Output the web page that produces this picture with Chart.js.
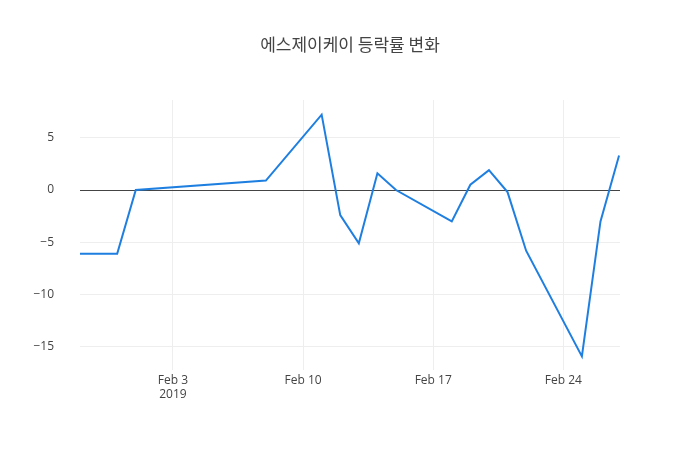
<!DOCTYPE html>
<html><head><meta charset="utf-8">
<script src="https://cdn.jsdelivr.net/npm/chart.js@4"></script>
<style>body{margin:0;background:#fff}#w{width:700px;height:450px}</style>
</head><body><div id="w"><canvas id="c"></canvas></div>
<script>
const dates=["2019-01-29","2019-01-31","2019-02-01","2019-02-08","2019-02-11","2019-02-12","2019-02-13","2019-02-14","2019-02-15","2019-02-18","2019-02-19","2019-02-20","2019-02-21","2019-02-22","2019-02-25","2019-02-26","2019-02-27"];
const values=[-6.1,-6.1,0,0.9,7.2,-2.4,-5.1,1.6,0,-3.0,0.5,1.9,-0.2,-5.8,-15.9,-3.0,3.3];
const xTicks=["2019-02-03","2019-02-10","2019-02-17","2019-02-24"];
const xTickLabels=[["Feb 3","2019"],"Feb 10","Feb 17","Feb 24"];
const yTicks=[-15,-10,-5,0,5];
const title="에스제이케이 등락률 변화";
const day=s=>Date.UTC(+s.slice(0,4),+s.slice(5,7)-1,+s.slice(8,10))/86400000;
const tickDays=xTicks.map(day);
const titlePlugin={id:'t',afterDraw(c){const g=c.ctx;g.save();g.font='17px "Noto Sans CJK KR"';g.fillStyle='#444';g.textAlign='center';g.textBaseline='middle';g.fillText(title,350,45);g.restore();}};
new Chart(document.getElementById('c'),{type:'line',
data:{datasets:[{data:dates.map((d,i)=>({x:day(d),y:values[i]})),borderColor:'#1f7fe0',borderWidth:2,pointRadius:0,tension:0,fill:false}]},
options:{responsive:true,maintainAspectRatio:false,animation:false,
layout:{padding:{left:0,right:80,top:100,bottom:0}},
plugins:{legend:{display:false},tooltip:{enabled:false}},
scales:{
x:{type:'linear',min:day("2019-01-29"),max:day("2019-02-27")+0.05,
afterBuildTicks:a=>{a.ticks=tickDays.map(v=>({value:v}));},
afterFit:a=>{a.height=80;},
border:{display:false},grid:{color:'#eee',drawTicks:false},
ticks:{padding:3,color:'#444',font:{family:'Open Sans',size:12},maxRotation:0,callback:(v)=>{const i=tickDays.indexOf(v);return i<0?'':xTickLabels[i];}}},
y:{min:-17.2,max:8.6,
afterBuildTicks:a=>{a.ticks=yTicks.map(v=>({value:v}));},
afterFit:a=>{a.width=80;},
border:{display:false},grid:{drawTicks:false,color:c=>c.tick&&c.tick.value===0?'#444':'#eee'},
ticks:{padding:26,color:'#444',font:{family:'Open Sans',size:12},callback:v=>v<0?'\u2212'+(-v):''+v}}
}},plugins:[titlePlugin]});
</script></body></html>
